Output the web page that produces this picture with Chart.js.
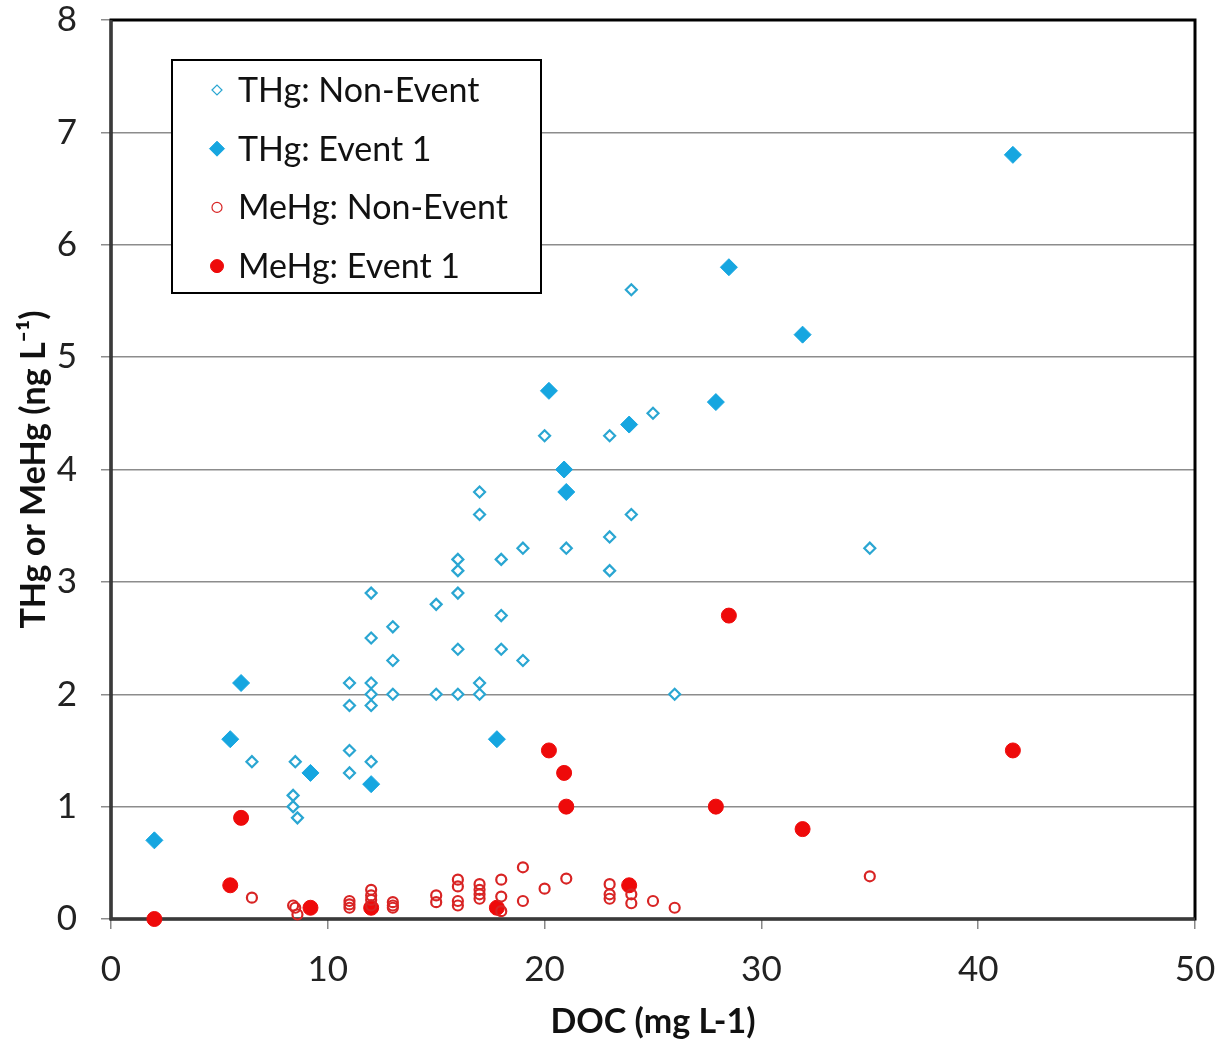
<!DOCTYPE html>
<html>
<head>
<meta charset="utf-8">
<script src="https://cdn.jsdelivr.net/npm/chart.js@4"></script>
<style>
  html, body { margin: 0; padding: 0; background: #ffffff; }
  #wrap { width: 1223px; height: 1042px; }
</style>
</head>
<body>
<div id="wrap"><canvas id="c" width="1223" height="1042"></canvas></div>
<script>
// ---- data ----
const seriesNames = ['THg: Non-Event', 'THg: Event 1', 'MeHg: Non-Event', 'MeHg: Event 1'];

const thgNonEventX = [6.5, 8.4, 8.4, 8.6, 8.5, 11, 11, 11, 11, 12, 12, 12, 12, 12, 12, 13, 13, 13, 15, 15, 16, 16, 16, 16, 16, 17, 17, 17, 17, 18, 18, 18, 19, 19, 20, 21, 23, 23, 23, 24, 24, 25, 26, 35];
const thgNonEventY = [1.4, 1.1, 1.0, 0.9, 1.4, 2.1, 1.9, 1.5, 1.3, 2.9, 2.5, 2.1, 2.0, 1.9, 1.4, 2.6, 2.3, 2.0, 2.8, 2.0, 3.2, 3.1, 2.9, 2.4, 2.0, 3.8, 3.6, 2.1, 2.0, 3.2, 2.7, 2.4, 3.3, 2.3, 4.3, 3.3, 4.3, 3.4, 3.1, 5.6, 3.6, 4.5, 2.0, 3.3];

const thgEventX = [2, 5.5, 6, 9.2, 12, 17.8, 20.2, 20.9, 21, 23.9, 27.9, 28.5, 31.9, 41.6];
const thgEventY = [0.7, 1.6, 2.1, 1.3, 1.2, 1.6, 4.7, 4.0, 3.8, 4.4, 4.6, 5.8, 5.2, 6.8];

const mehgNonEventX = [6.5, 8.4, 8.5, 8.6, 11, 11, 11, 12, 12, 12, 12, 13, 13, 13, 15, 15, 16, 16, 16, 16, 17, 17, 17, 17, 18, 18, 18, 19, 19, 20, 21, 23, 23, 23, 24, 24, 25, 26, 35];
const mehgNonEventY = [0.19, 0.12, 0.1, 0.04, 0.16, 0.13, 0.1, 0.26, 0.21, 0.17, 0.12, 0.15, 0.12, 0.1, 0.21, 0.15, 0.35, 0.29, 0.16, 0.12, 0.31, 0.26, 0.22, 0.18, 0.35, 0.2, 0.07, 0.46, 0.16, 0.27, 0.36, 0.31, 0.22, 0.18, 0.22, 0.14, 0.16, 0.1, 0.38];

const mehgEventX = [2, 5.5, 6, 9.2, 12, 17.8, 20.2, 20.9, 21, 23.9, 27.9, 28.5, 31.9, 41.6];
const mehgEventY = [0, 0.3, 0.9, 0.1, 0.1, 0.1, 1.5, 1.3, 1.0, 0.3, 1.0, 2.7, 0.8, 1.5];

const xTicks = [0, 10, 20, 30, 40, 50];
const yTicks = [0, 1, 2, 3, 4, 5, 6, 7, 8];
const xTitle = 'DOC (mg L-1)';
const yTitle = 'THg or MeHg (ng L\u207B\u00B9)';

// ---- helpers ----
const pts = (xs, ys) => xs.map((x, i) => ({ x: x, y: ys[i] }));
const BLUE = '#16a6e0';
const BLUE_OPEN = '#2aa6d2';
const RED = '#ee0a0a';
const RED_OPEN = '#d82424';
const FONT = 'Lato, "Open Sans", "Noto Sans", sans-serif';

const legendStyles = [
  { style: 'rectRot', r: 5, fill: '#ffffff', stroke: BLUE_OPEN, lw: 1.2 },
  { style: 'rectRot', r: 7.5, fill: BLUE, stroke: BLUE, lw: 1 },
  { style: 'circle', r: 5, fill: '#ffffff', stroke: RED_OPEN, lw: 1.2 },
  { style: 'circle', r: 6.5, fill: RED, stroke: RED, lw: 1 }
];

const framePlugin = {
  id: 'frame',
  beforeDatasetsDraw(chart) {
    const { ctx, chartArea: a } = chart;
    ctx.save();
    ctx.strokeStyle = '#000000';
    ctx.lineWidth = 3;
    ctx.strokeRect(a.left, a.top, a.right - a.left, a.bottom - a.top);
    ctx.strokeStyle = '#3a3a3a';
    ctx.beginPath();
    ctx.moveTo(a.left, a.top); ctx.lineTo(a.left, a.bottom); ctx.lineTo(a.right, a.bottom);
    ctx.stroke();
    ctx.restore();
  },
  afterDraw(chart) {
    const { ctx, chartArea: a } = chart;
    const bx = a.left + 61, by = a.top + 40, bw = 369, bh = 233;
    ctx.save();
    ctx.fillStyle = '#ffffff';
    ctx.fillRect(bx, by, bw, bh);
    ctx.strokeStyle = '#000000';
    ctx.lineWidth = 2;
    ctx.strokeRect(bx, by, bw, bh);
    ctx.font = '34px ' + FONT;
    ctx.textBaseline = 'middle';
    ctx.textAlign = 'left';
    chart.data.datasets.forEach((ds, i) => {
      const cy = by + 30 + i * 58.7;
      const s = legendStyles[i];
      ctx.fillStyle = s.fill;
      ctx.strokeStyle = s.stroke;
      ctx.lineWidth = s.lw;
      Chart.helpers.drawPoint(ctx, { pointStyle: s.style, radius: s.r, borderWidth: s.lw, rotation: 0 }, bx + 45, cy);
      ctx.fillStyle = '#111111';
      ctx.fillText(ds.label, bx + 66, cy + 1);
    });
    ctx.restore();
  }
};

new Chart(document.getElementById('c'), {
  type: 'scatter',
  data: {
    datasets: [
      { label: seriesNames[0], data: pts(thgNonEventX, thgNonEventY), pointStyle: 'rectRot', pointRadius: 5.5, pointBorderWidth: 2.2, pointBackgroundColor: '#ffffff', pointBorderColor: BLUE_OPEN, clip: false },
      { label: seriesNames[1], data: pts(thgEventX, thgEventY), pointStyle: 'rectRot', pointRadius: 8.5, pointBorderWidth: 1, pointBackgroundColor: BLUE, pointBorderColor: BLUE, clip: false },
      { label: seriesNames[2], data: pts(mehgNonEventX, mehgNonEventY), pointStyle: 'circle', pointRadius: 5, pointBorderWidth: 2.2, pointBackgroundColor: 'rgba(255,255,255,0)', pointBorderColor: RED_OPEN, clip: false },
      { label: seriesNames[3], data: pts(mehgEventX, mehgEventY), pointStyle: 'circle', pointRadius: 7.5, pointBorderWidth: 1, pointBackgroundColor: RED, pointBorderColor: RED, clip: false }
    ]
  },
  options: {
    responsive: false,
    animation: false,
    layout: { padding: { top: 20, right: 28, left: 0, bottom: 0 } },
    plugins: { legend: { display: false }, tooltip: { enabled: false } },
    scales: {
      x: {
        type: 'linear', min: 0, max: 50,
        afterFit: s => { s.height = 123; s.paddingLeft = 0; s.paddingRight = 0; },
        afterBuildTicks: s => { s.ticks = xTicks.map(v => ({ value: v })); },
        ticks: { color: '#222222', font: { family: FONT, size: 35 }, padding: 20 },
        grid: { drawOnChartArea: false, drawTicks: true, tickLength: 10, color: '#888888', lineWidth: 1.5 },
        border: { display: false },
        title: { display: true, text: xTitle, color: '#111111', font: { family: FONT, size: 34, weight: 'bold' }, padding: { top: 0, bottom: 0 } }
      },
      y: {
        type: 'linear', min: 0, max: 8,
        afterFit: s => { s.width = 111; s.paddingTop = 0; s.paddingBottom = 0; },
        afterBuildTicks: s => { s.ticks = yTicks.map(v => ({ value: v })); },
        ticks: { color: '#222222', font: { family: FONT, size: 35 }, padding: 24 },
        grid: { drawOnChartArea: true, drawTicks: true, tickLength: 10, color: '#8c8c8c', lineWidth: 1.5 },
        border: { display: false },
        title: { display: true, text: yTitle, color: '#111111', font: { family: FONT, size: 34, weight: 'bold' }, padding: { top: 14, bottom: 0 } }
      }
    }
  },
  plugins: [framePlugin]
});
</script>
</body>
</html>
